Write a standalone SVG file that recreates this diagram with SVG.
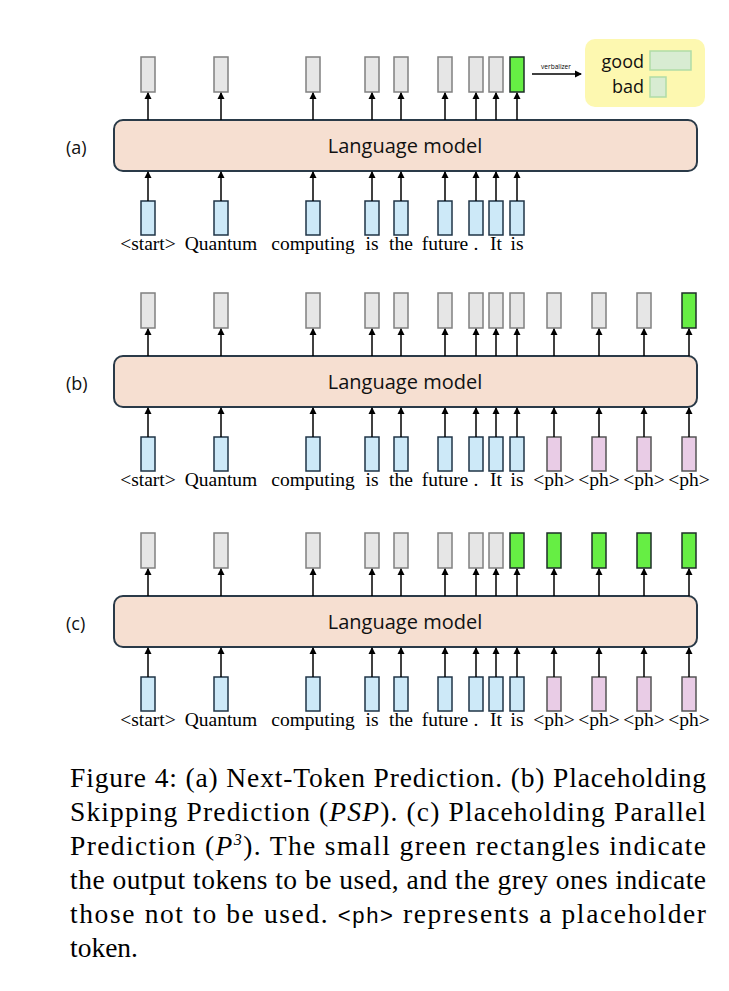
<svg xmlns="http://www.w3.org/2000/svg" width="729" height="991" viewBox="0 0 729 991">
<style>
.g{fill:#e6e6e6;stroke:#808080;stroke-width:1.5}
.gr{fill:#66ee44;stroke:#1e2e28;stroke-width:1.5}
.b{fill:#cde9f8;stroke:#1f3447;stroke-width:1.5}
.p{fill:#e9cce6;stroke:#555;stroke-width:1.5}
.lm{fill:#f6dfd1;stroke:#2a3a48;stroke-width:2}
.a{stroke:#000;stroke-width:1.5;fill:none;marker-end:url(#ah)}
.lmt{font-family:"Open Sans","Liberation Sans",sans-serif;font-size:20px;fill:#111;text-anchor:middle}
.lab{font-family:"Open Sans","Liberation Sans",sans-serif;font-size:18px;fill:#111}
.tok{font-family:"Liberation Serif","Times New Roman",serif;font-size:19.5px;fill:#000;text-anchor:middle}
.cap{font-family:"Liberation Serif","Times New Roman",serif;font-size:27.5px;fill:#000}
</style>
<defs>
<marker id="ah" markerWidth="8" markerHeight="8" refX="6" refY="4" orient="auto" markerUnits="userSpaceOnUse"><path d="M0,0.5 L7,4 L0,7.5 z" fill="#000"/></marker>
</defs>
<rect width="729" height="991" fill="#fff"/>

<g id="panel-a">
<text class="lab" x="66" y="154">(a)</text>
<g id="lm-a"><rect class="lm" x="114" y="120" width="583" height="51" rx="9"/><text class="lmt" x="405" y="153">Language model</text></g>
<g id="out-a">
<rect class="g" x="141" y="57" width="14" height="35"/><rect class="g" x="214" y="57" width="14" height="35"/><rect class="g" x="306" y="57" width="14" height="35"/><rect class="g" x="365" y="57" width="14" height="35"/><rect class="g" x="394" y="57" width="14" height="35"/><rect class="g" x="438" y="57" width="14" height="35"/><rect class="g" x="469" y="57" width="14" height="35"/><rect class="g" x="489" y="57" width="14" height="35"/><rect class="gr" x="510" y="57" width="14" height="35"/>
</g>
<g id="in-a">
<rect class="b" x="141" y="201" width="14" height="34"/><rect class="b" x="214" y="201" width="14" height="34"/><rect class="b" x="306" y="201" width="14" height="34"/><rect class="b" x="365" y="201" width="14" height="34"/><rect class="b" x="394" y="201" width="14" height="34"/><rect class="b" x="438" y="201" width="14" height="34"/><rect class="b" x="469" y="201" width="14" height="34"/><rect class="b" x="489" y="201" width="14" height="34"/><rect class="b" x="510" y="201" width="14" height="34"/>
</g>
<g id="conn-a">
<path class="a" d="M148,120V93"/><path class="a" d="M221,120V93"/><path class="a" d="M313,120V93"/><path class="a" d="M372,120V93"/><path class="a" d="M401,120V93"/><path class="a" d="M445,120V93"/><path class="a" d="M476,120V93"/><path class="a" d="M496,120V93"/><path class="a" d="M517,120V93"/>
<path class="a" d="M148,201V172"/><path class="a" d="M221,201V172"/><path class="a" d="M313,201V172"/><path class="a" d="M372,201V172"/><path class="a" d="M401,201V172"/><path class="a" d="M445,201V172"/><path class="a" d="M476,201V172"/><path class="a" d="M496,201V172"/><path class="a" d="M517,201V172"/>
<path class="a" d="M532,74H581"/>
</g>
<text x="556" y="69" font-family="Open Sans,Liberation Sans,sans-serif" font-size="6.5" text-anchor="middle">verbalizer</text>
<g id="verbalizer">
<rect x="585" y="39" width="120" height="68" rx="10" fill="#fdf8b0"/>
<text class="lab" x="644" y="68" text-anchor="end">good</text>
<text class="lab" x="644" y="93" text-anchor="end">bad</text>
<rect x="650" y="51" width="41" height="19" fill="#d8ecd2" stroke="#b0dca6" stroke-width="1.5"/>
<rect x="650" y="77" width="16" height="20" fill="#d8ecd2" stroke="#b0dca6" stroke-width="1.5"/>
</g>
<text class="tok" y="250"><tspan x="148">&lt;start&gt;</tspan><tspan x="221">Quantum</tspan><tspan x="313">computing</tspan><tspan x="372">is</tspan><tspan x="401">the</tspan><tspan x="445">future</tspan><tspan x="476">.</tspan><tspan x="496">It</tspan><tspan x="517">is</tspan></text>
</g>

<g id="panel-b" transform="translate(0,236)">
<text class="lab" x="66" y="154">(b)</text>
<g id="lm-b"><rect class="lm" x="114" y="120" width="583" height="51" rx="9"/><text class="lmt" x="405" y="153">Language model</text></g>
<g id="out-b">
<rect class="g" x="141" y="57" width="14" height="35"/><rect class="g" x="214" y="57" width="14" height="35"/><rect class="g" x="306" y="57" width="14" height="35"/><rect class="g" x="365" y="57" width="14" height="35"/><rect class="g" x="394" y="57" width="14" height="35"/><rect class="g" x="438" y="57" width="14" height="35"/><rect class="g" x="469" y="57" width="14" height="35"/><rect class="g" x="489" y="57" width="14" height="35"/><rect class="g" x="510" y="57" width="14" height="35"/><rect class="g" x="547" y="57" width="14" height="35"/><rect class="g" x="592" y="57" width="14" height="35"/><rect class="g" x="637" y="57" width="14" height="35"/><rect class="gr" x="682" y="57" width="14" height="35"/>
</g>
<g id="in-b">
<rect class="b" x="141" y="201" width="14" height="34"/><rect class="b" x="214" y="201" width="14" height="34"/><rect class="b" x="306" y="201" width="14" height="34"/><rect class="b" x="365" y="201" width="14" height="34"/><rect class="b" x="394" y="201" width="14" height="34"/><rect class="b" x="438" y="201" width="14" height="34"/><rect class="b" x="469" y="201" width="14" height="34"/><rect class="b" x="489" y="201" width="14" height="34"/><rect class="b" x="510" y="201" width="14" height="34"/><rect class="p" x="547" y="201" width="14" height="34"/><rect class="p" x="592" y="201" width="14" height="34"/><rect class="p" x="637" y="201" width="14" height="34"/><rect class="p" x="682" y="201" width="14" height="34"/>
</g>
<g id="conn-b">
<path class="a" d="M148,120V93"/><path class="a" d="M221,120V93"/><path class="a" d="M313,120V93"/><path class="a" d="M372,120V93"/><path class="a" d="M401,120V93"/><path class="a" d="M445,120V93"/><path class="a" d="M476,120V93"/><path class="a" d="M496,120V93"/><path class="a" d="M517,120V93"/><path class="a" d="M554,120V93"/><path class="a" d="M599,120V93"/><path class="a" d="M644,120V93"/><path class="a" d="M689,120V93"/>
<path class="a" d="M148,201V172"/><path class="a" d="M221,201V172"/><path class="a" d="M313,201V172"/><path class="a" d="M372,201V172"/><path class="a" d="M401,201V172"/><path class="a" d="M445,201V172"/><path class="a" d="M476,201V172"/><path class="a" d="M496,201V172"/><path class="a" d="M517,201V172"/><path class="a" d="M554,201V172"/><path class="a" d="M599,201V172"/><path class="a" d="M644,201V172"/><path class="a" d="M689,201V172"/>
</g>
<text class="tok" y="250"><tspan x="148">&lt;start&gt;</tspan><tspan x="221">Quantum</tspan><tspan x="313">computing</tspan><tspan x="372">is</tspan><tspan x="401">the</tspan><tspan x="445">future</tspan><tspan x="476">.</tspan><tspan x="496">It</tspan><tspan x="517">is</tspan><tspan x="554">&lt;ph&gt;</tspan><tspan x="599">&lt;ph&gt;</tspan><tspan x="644">&lt;ph&gt;</tspan><tspan x="689">&lt;ph&gt;</tspan></text>
</g>

<g id="panel-c" transform="translate(0,476)">
<text class="lab" x="66" y="154">(c)</text>
<g id="lm-c"><rect class="lm" x="114" y="120" width="583" height="51" rx="9"/><text class="lmt" x="405" y="153">Language model</text></g>
<g id="out-c">
<rect class="g" x="141" y="57" width="14" height="35"/><rect class="g" x="214" y="57" width="14" height="35"/><rect class="g" x="306" y="57" width="14" height="35"/><rect class="g" x="365" y="57" width="14" height="35"/><rect class="g" x="394" y="57" width="14" height="35"/><rect class="g" x="438" y="57" width="14" height="35"/><rect class="g" x="469" y="57" width="14" height="35"/><rect class="g" x="489" y="57" width="14" height="35"/><rect class="gr" x="510" y="57" width="14" height="35"/><rect class="gr" x="547" y="57" width="14" height="35"/><rect class="gr" x="592" y="57" width="14" height="35"/><rect class="gr" x="637" y="57" width="14" height="35"/><rect class="gr" x="682" y="57" width="14" height="35"/>
</g>
<g id="in-c">
<rect class="b" x="141" y="201" width="14" height="34"/><rect class="b" x="214" y="201" width="14" height="34"/><rect class="b" x="306" y="201" width="14" height="34"/><rect class="b" x="365" y="201" width="14" height="34"/><rect class="b" x="394" y="201" width="14" height="34"/><rect class="b" x="438" y="201" width="14" height="34"/><rect class="b" x="469" y="201" width="14" height="34"/><rect class="b" x="489" y="201" width="14" height="34"/><rect class="b" x="510" y="201" width="14" height="34"/><rect class="p" x="547" y="201" width="14" height="34"/><rect class="p" x="592" y="201" width="14" height="34"/><rect class="p" x="637" y="201" width="14" height="34"/><rect class="p" x="682" y="201" width="14" height="34"/>
</g>
<g id="conn-c">
<path class="a" d="M148,120V93"/><path class="a" d="M221,120V93"/><path class="a" d="M313,120V93"/><path class="a" d="M372,120V93"/><path class="a" d="M401,120V93"/><path class="a" d="M445,120V93"/><path class="a" d="M476,120V93"/><path class="a" d="M496,120V93"/><path class="a" d="M517,120V93"/><path class="a" d="M554,120V93"/><path class="a" d="M599,120V93"/><path class="a" d="M644,120V93"/><path class="a" d="M689,120V93"/>
<path class="a" d="M148,201V172"/><path class="a" d="M221,201V172"/><path class="a" d="M313,201V172"/><path class="a" d="M372,201V172"/><path class="a" d="M401,201V172"/><path class="a" d="M445,201V172"/><path class="a" d="M476,201V172"/><path class="a" d="M496,201V172"/><path class="a" d="M517,201V172"/><path class="a" d="M554,201V172"/><path class="a" d="M599,201V172"/><path class="a" d="M644,201V172"/><path class="a" d="M689,201V172"/>
</g>
<text class="tok" y="250"><tspan x="148">&lt;start&gt;</tspan><tspan x="221">Quantum</tspan><tspan x="313">computing</tspan><tspan x="372">is</tspan><tspan x="401">the</tspan><tspan x="445">future</tspan><tspan x="476">.</tspan><tspan x="496">It</tspan><tspan x="517">is</tspan><tspan x="554">&lt;ph&gt;</tspan><tspan x="599">&lt;ph&gt;</tspan><tspan x="644">&lt;ph&gt;</tspan><tspan x="689">&lt;ph&gt;</tspan></text>
</g>

<g id="caption">
<text class="cap" x="70" y="787" textLength="636" lengthAdjust="spacing">Figure 4: (a) Next-Token Prediction. (b) Placeholding</text>
<text class="cap" x="70" y="821" textLength="636" lengthAdjust="spacing">Skipping Prediction (<tspan font-style="italic">PSP</tspan>). (c) Placeholding Parallel</text>
<text class="cap" x="70" y="855" textLength="636" lengthAdjust="spacing">Prediction (<tspan font-style="italic">P</tspan><tspan font-size="16" dy="-10" font-style="italic">3</tspan><tspan dy="10">).  The small green rectangles indicate</tspan></text>
<text class="cap" x="70" y="889" textLength="636" lengthAdjust="spacing">the output tokens to be used, and the grey ones indicate</text>
<text class="cap" x="70" y="923" textLength="636" lengthAdjust="spacing">those not to be used.  <tspan font-family="Liberation Sans,sans-serif" font-size="22">&lt;ph&gt;</tspan> represents a placeholder</text>
<text class="cap" x="70" y="957">token.</text>
</g>
</svg>
